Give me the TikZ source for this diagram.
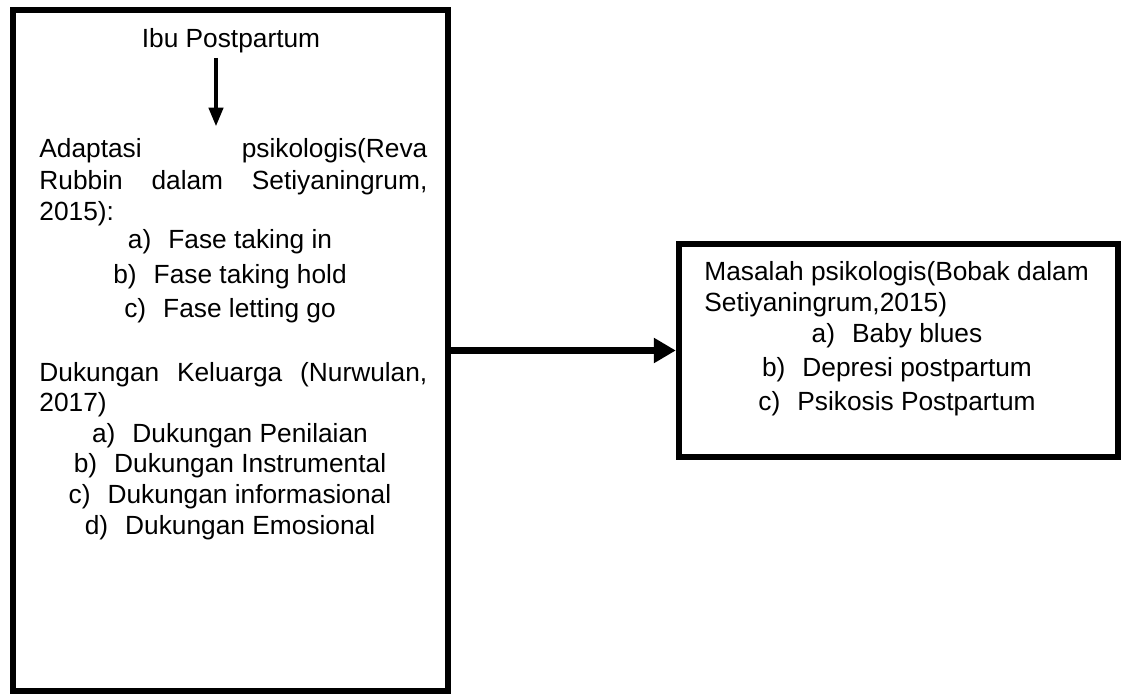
\documentclass[tikz,border=0pt]{standalone}
\usepackage{fontspec}
\setmainfont{Liberation Sans}
\usetikzlibrary{arrows.meta}
\newcommand{\itm}[2]{#1)\hspace{8.5pt}#2}
\newcommand{\jline}[1]{\makebox[194pt][s]{#1}}

\begin{document}
\begin{tikzpicture}[x=0.5pt,y=-0.5pt,
		box/.style={rectangle, draw, line width=3.2pt, inner sep=0pt},
		txt/.style={inner sep=2pt, font=\fontsize{13.15}{15.75}\selectfont},
		bigarr/.style={line width=3.5pt, -{Triangle[length=11pt,width=12pt]}},
		smallarr/.style={line width=2.2pt, -{Triangle[length=9.5pt,width=7pt]}}]
				\useasboundingbox (0,0) rectangle (1126,695);
				\node[box, minimum width=217.5pt, minimum height=340.5pt] (kiri)  at (230.5,350.5) {};
				\node[box, minimum width=219.5pt, minimum height=106.5pt] (kanan) at (898.5,350.5) {};
				% kotak kiri
				\node[txt,anchor=base] (ibu) at (231,48) {Ibu Postpartum};
				\node[txt,anchor=base west] (adapt1) at (35,158)   {\jline{Adaptasi psikologis(Reva}};
				\node[txt,anchor=base west] (adapt2) at (35,189.5) {\jline{Rubbin dalam Setiyaningrum,}};
				\node[txt,anchor=base west] (adapt3) at (35,221)   {2015):};
				\node[txt,anchor=base] (fase1) at (230,249) {\itm{a}{Fase taking in}};
				\node[txt,anchor=base] (fase2) at (230,284) {\itm{b}{Fase taking hold}};
				\node[txt,anchor=base] (fase3) at (230,318) {\itm{c}{Fase letting go}};
				\node[txt,anchor=base west] (kel1) at (35,382) {\jline{Dukungan Keluarga (Nurwulan,}};
				\node[txt,anchor=base west] (kel2) at (35,412) {2017)};
				\node[txt,anchor=base] (duk1) at (230,443) {\itm{a}{Dukungan Penilaian}};
				\node[txt,anchor=base] (duk2) at (230,473) {\itm{b}{Dukungan Instrumental}};
				\node[txt,anchor=base] (duk3) at (230,504) {\itm{c}{Dukungan informasional}};
				\node[txt,anchor=base] (duk4) at (230,535) {\itm{d}{Dukungan Emosional}};
				% kotak kanan
				\node[txt,anchor=base west] (mas1) at (700,281) {Masalah psikologis(Bobak dalam};
				\node[txt,anchor=base west] (mas2) at (700,312) {Setiyaningrum,2015)};
				\node[txt,anchor=base] (msl1) at (897,343) {\itm{a}{Baby blues}};
				\node[txt,anchor=base] (msl2) at (897,377) {\itm{b}{Depresi postpartum}};
				\node[txt,anchor=base] (msl3) at (897,411) {\itm{c}{Psikosis Postpartum}};
				% panah
				\coordinate (ax) at (216,0);
				\draw[smallarr, shorten >=4pt] (ax |- ibu.south) -- (ax |- adapt1.north);
				\draw[bigarr] (kiri.east) -- (kanan.west);
			\end{tikzpicture}
\end{document}
